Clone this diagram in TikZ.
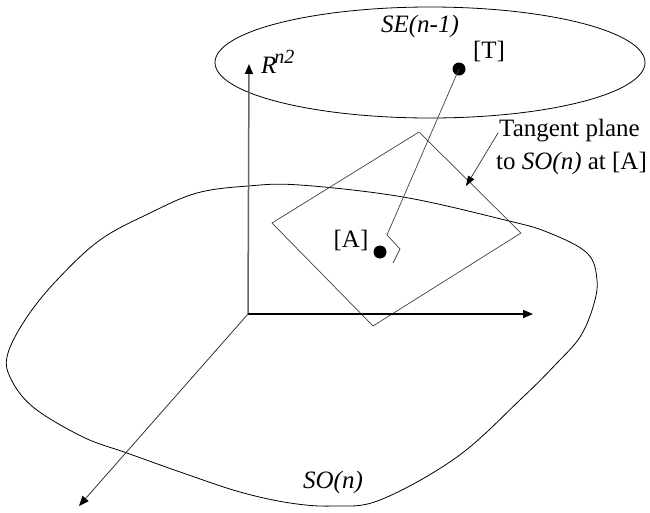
\documentclass[tikz,border=0pt]{standalone}
\usepackage{fontspec}
\setmainfont{Liberation Serif}
\usetikzlibrary{arrows.meta}
\begin{document}
\begin{tikzpicture}[x=1pt,y=-1pt,
  thinline/.style={line width=0.8pt,black},
  planeline/.style={line width=0.7pt,black!75},
  axisblack/.style={line width=1.4pt,black,-{Triangle[length=10pt,width=8pt]}},
  axisgray/.style={line width=1.5pt,black!60,-{Triangle[length=10pt,width=8pt,color=black]}},
  axisdiag/.style={line width=0.8pt,black!80,-{Triangle[length=10pt,width=8pt,color=black]}},
  dotnode/.style={circle,fill=black,inner sep=0pt,minimum size=13pt},
  lbl/.style={inner sep=0pt,font=\fontsize{25}{28}\selectfont},
  leader/.style={line width=0.7pt,black!80,-{Triangle[length=10pt,width=7pt,color=black]}}
]
\useasboundingbox (0,0) rectangle (650,512);

% SO(n) blob
\draw[thinline] plot[smooth cycle, tension=0.6] coordinates {
 (8,353) (27,317) (57,280) (100,240) (150,213) (197,193) (248,186) (300,185)
 (403,197) (505,220) (547,232) (587,253) (597,280) (593,307) (580,337) (557,363)
 (522,398) (457,457) (380,500) (333,506) (290,503) (240,492) (183,473)
 (127,453) (83,437) (33,407) (10,377)};

% SE(n-1) ellipse
\draw[thinline] (430,62.5) ellipse [x radius=215, y radius=55.5];

% tangent plane
\coordinate (PL) at (272,223);
\coordinate (PT) at (419,132);
\coordinate (PR) at (521,233);
\coordinate (PB) at (373,326);
\draw[planeline] (PL) -- (PT) -- (PR) -- (PB) -- cycle;

% axes
\coordinate (O) at (248,314);
\coordinate (Xtip) at (533,314);
\coordinate (Ytip) at (249,64);
\coordinate (Ztip) at (79,506);
\draw[axisgray] (O) -- (Ytip);
\draw[axisblack] (O) -- (Xtip);
\draw[axisdiag] (O) -- (Ztip);

% points
\node[dotnode] (T) at (459,69) {};
\node[dotnode] (A) at (380,252) {};
\coordinate (Aend) at (387,235);
\coordinate (M1) at (400,249);
\coordinate (M2) at (393,263);
\draw[planeline] (T.center) -- (Aend) -- (M1) -- (M2);

% labels
\node[lbl] (se) at (420,26) {\textit{SE(n-1)}};
\node[lbl] (tl) at (489,51) {[T]};
\node[lbl] (al) at (351,240) {[A]};
\node[lbl,anchor=base west] (rl) at (261,73) {\textit{R}\hspace{-2pt}\raisebox{0.4em}{\fontsize{20}{20}\selectfont\textit{n2}}};
\node[lbl] (so) at (333,482) {\textit{SO(n)}};
\node[lbl,anchor=base west] (tp1) at (499,136) {Tangent plane};
\node[lbl,anchor=base west] (tp2) at (496,169) {to \textit{SO(n)} at [A]};

% leader arrow
\coordinate (Lstart) at (498,133);
\coordinate (Lend) at (466,186);
\draw[leader] (Lstart) -- (Lend);
\end{tikzpicture}
\end{document}
